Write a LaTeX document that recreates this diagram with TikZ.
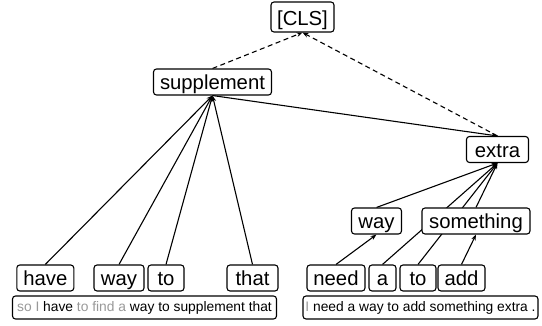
\documentclass[tikz,border=0pt]{standalone}
\usepackage{fontspec}
\setmainfont{Liberation Sans}
\usetikzlibrary{arrows.meta}
\pgfdeclarelayer{bg}
\pgfsetlayers{bg,main}
\definecolor{lightword}{gray}{0.6}
\tikzset{
  word/.style={draw, rounded corners=3pt, line width=1.1pt, fill=white,
    font=\fontsize{20.3}{24}\selectfont, text height=18.5pt, text depth=2.5pt,
    inner ysep=2.5pt, inner xsep=0pt},
  clsbox/.style={word, text height=21pt, text depth=4pt},
  sentbox/.style={draw, rounded corners=3pt, line width=1.1pt, fill=white,
    font=\fontsize{13.8}{16}\selectfont, text height=13pt, text depth=4pt,
    inner ysep=3pt, inner xsep=0pt},
  dep/.style={line width=1.1pt, -{Stealth[length=6pt,width=4.5pt]}},
  rootdep/.style={dep, dash pattern=on 5pt off 3.5pt}
}
\begin{document}
\begin{tikzpicture}[x=1pt,y=-1pt]
\useasboundingbox (0,0) rectangle (542,326);
% upper nodes
\node[clsbox, minimum width=63pt] (cls) at (302.5,17) {[CLS]};
\node[word, minimum width=118pt] (supp) at (212.5,82) {supplement};
\node[word, minimum width=62pt] (extra) at (497.5,149.5) {extra};
\node[word, minimum width=50pt] (way2) at (376.5,221) {way};
\node[word, minimum width=108pt] (some) at (476,221) {something};
% bottom words, left
\node[word, minimum width=57pt] (have) at (45.3,278) {have};
\node[word, minimum width=50pt] (way1) at (119,278) {way};
\node[word, minimum width=36pt] (to1) at (166,278) {to};
\node[word, minimum width=51pt] (that) at (252.5,278) {that};
% bottom words, right
\node[word, minimum width=58pt] (need) at (336,278) {need};
\node[word, minimum width=27pt] (a) at (382.5,278) {a};
\node[word, minimum width=36pt] (to2) at (418,278) {to};
\node[word, minimum width=47pt] (add) at (461.5,278) {add};
% sentences
\node[sentbox, minimum width=264pt] (s1) at (144.5,307.5)
  {\textcolor{lightword}{so I} have \textcolor{lightword}{to find a} way to supplement that};
\node[sentbox, minimum width=235pt] (s2) at (420.5,307.5)
  {\textcolor{lightword}{I} need a way to add something extra .};
% edges
\begin{pgfonlayer}{bg}
\draw[dep] (have.north) -- (supp.south);
\draw[dep] (way1.north) -- (supp.south);
\draw[dep] (to1.north) -- (supp.south);
\draw[dep] (that.north) -- (supp.south);
\draw[dep] (supp.south) -- (extra.north);
\draw[dep] (need.north) -- (way2.south);
\draw[dep] (add.north) -- (some.south);
\draw[dep] (a.north) -- (extra.south);
\draw[dep] (to2.north) -- (extra.south);
\draw[dep] (way2.north) -- (extra.south);
\draw[dep] (some.north) -- (extra.south);
\draw[rootdep] (supp.north) -- (cls.south);
\draw[rootdep] (extra.north) -- (cls.south);
\end{pgfonlayer}
\end{tikzpicture}
\end{document}
